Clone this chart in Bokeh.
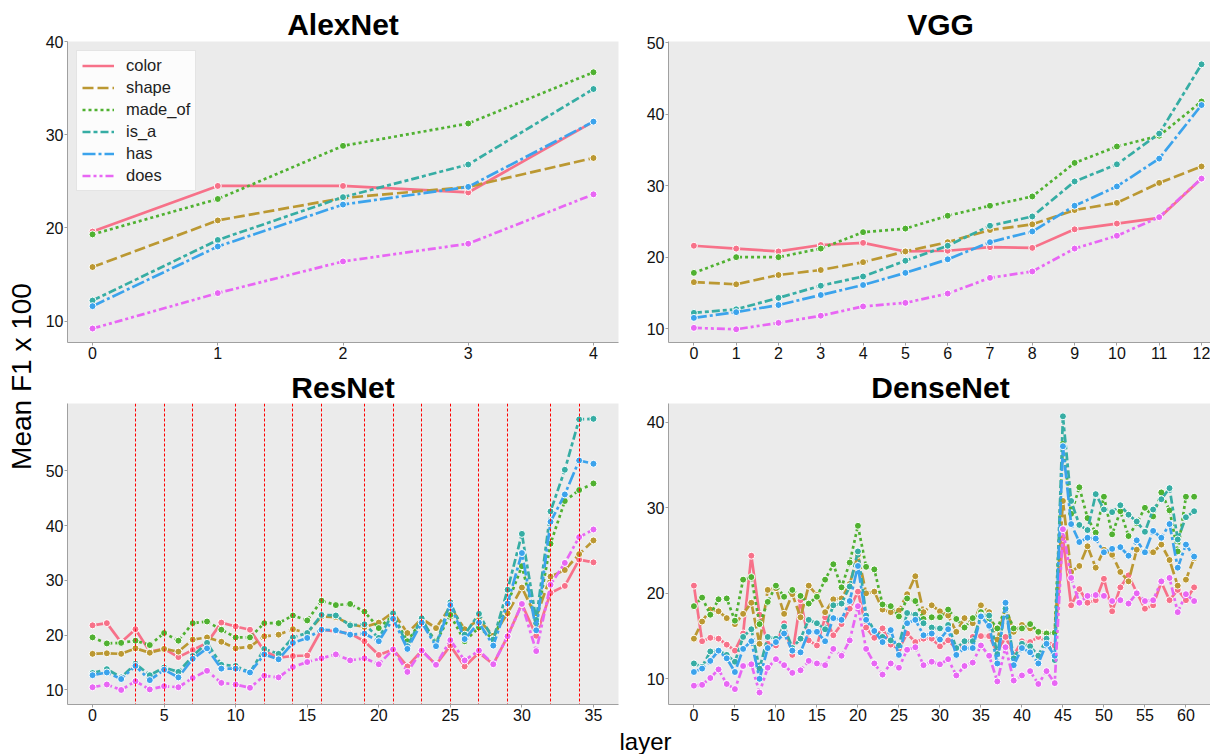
from math import pi
from bokeh.plotting import figure
from bokeh.models import Range1d, FixedTicker, Legend, LegendItem, ColumnDataSource
from bokeh.layouts import row, column
from bokeh.core.properties import value
from bokeh.embed import file_html
from bokeh.resources import INLINE

relations = ["color", "shape", "made_of", "is_a", "has", "does"]
palette = ["#f77189", "#bb9832", "#50b131", "#36ada4", "#3ba3ec", "#e866f4"]
dashes = ["solid", "11 4", "3 3", "8 3 4 3", "13 3 3 3", "8 3 3 3 3 3"]

# ---------------- AlexNet ----------------
alex_layers = [0, 1, 2, 3, 4]
alex_color = [19.6, 24.5, 24.5, 23.8, 31.4]
alex_shape = [15.8, 20.8, 23.2, 24.4, 27.5]
alex_made_of = [19.3, 23.1, 28.8, 31.2, 36.7]
alex_is_a = [12.2, 18.7, 23.3, 26.8, 34.9]
alex_has = [11.6, 18.0, 22.5, 24.4, 31.4]
alex_does = [9.2, 13.0, 16.4, 18.3, 23.6]

# ---------------- VGG ----------------
vgg_layers = list(range(13))
vgg_color = [21.6, 21.2, 20.8, 21.7, 22.0, 20.8, 20.9, 21.4, 21.3, 23.9, 24.7, 25.5, 31.0]
vgg_shape = [16.5, 16.2, 17.5, 18.2, 19.3, 20.8, 22.1, 23.8, 24.6, 26.6, 27.6, 30.4, 32.7]
vgg_made_of = [17.8, 20.0, 20.0, 21.2, 23.5, 24.0, 25.8, 27.2, 28.5, 33.2, 35.5, 37.0, 41.8]
vgg_is_a = [12.2, 12.7, 14.3, 16.0, 17.3, 19.5, 21.6, 24.4, 25.7, 30.6, 33.0, 37.3, 47.0]
vgg_has = [11.5, 12.3, 13.3, 14.7, 16.1, 17.8, 19.7, 22.1, 23.6, 27.2, 29.9, 33.8, 41.3]
vgg_does = [10.1, 9.9, 10.8, 11.8, 13.1, 13.6, 14.9, 17.1, 18.0, 21.2, 23.0, 25.6, 31.0]

# ---------------- ResNet ----------------
resnet_layers = list(range(36))
resnet_color = [21.8, 22.2, 18.7, 21.1, 17.0, 17.5, 16.0, 17.3, 18.6, 22.3, 21.6, 21.0,
                17.1, 15.9, 16.2, 16.3, 21.0, 20.7, 20.3, 18.9, 16.4, 17.4, 14.3, 17.2,
                14.6, 18.1, 14.3, 16.8, 14.7, 19.8, 25.7, 19.9, 27.7, 29.0, 33.8, 33.3]
resnet_shape = [16.6, 16.7, 16.6, 17.6, 16.8, 17.5, 17.0, 19.2, 19.6, 18.8, 17.6, 17.9,
                19.8, 20.1, 21.1, 20.4, 23.4, 23.3, 22.0, 21.5, 22.3, 24.2, 20.4, 23.0,
                21.3, 25.2, 21.1, 22.8, 19.9, 24.0, 28.7, 23.3, 30.7, 31.9, 34.8, 37.3]
resnet_made_of = [19.6, 18.5, 18.6, 19.0, 18.2, 20.4, 19.0, 22.2, 22.5, 21.0, 19.6, 19.6,
                  22.2, 22.2, 23.6, 22.7, 26.3, 25.5, 25.7, 24.3, 21.3, 23.6, 18.9, 22.7,
                  18.7, 23.7, 18.9, 21.4, 19.3, 25.8, 32.6, 22.2, 36.7, 44.5, 46.5, 47.7]
resnet_is_a = [13.1, 13.8, 12.3, 14.8, 12.7, 14.1, 13.3, 16.2, 18.6, 14.6, 14.4, 13.2,
               17.5, 16.6, 19.6, 20.4, 23.7, 23.6, 21.8, 22.0, 19.5, 24.0, 18.0, 23.1,
               18.3, 26.0, 20.1, 23.9, 19.2, 28.3, 38.5, 22.8, 42.6, 50.2, 59.4, 59.5]
resnet_has = [12.7, 13.2, 12.0, 14.4, 11.8, 13.7, 12.3, 15.7, 17.6, 13.9, 13.9, 13.2,
              16.5, 15.6, 18.6, 19.5, 21.0, 20.9, 20.1, 20.3, 18.9, 23.0, 17.5, 22.3,
              18.0, 25.5, 19.3, 22.3, 18.1, 25.8, 35.0, 20.9, 40.7, 45.7, 51.9, 51.3]
resnet_does = [10.5, 11.0, 10.0, 11.6, 10.1, 10.7, 10.5, 12.2, 13.5, 11.3, 11.0, 10.4,
               12.6, 12.3, 14.2, 15.1, 15.8, 16.5, 15.4, 15.8, 14.7, 17.4, 13.3, 17.2,
               14.6, 19.1, 15.4, 17.2, 14.7, 19.8, 25.7, 17.1, 29.2, 33.2, 37.9, 39.3]
resnet_block_ends = [3, 5, 7, 10, 12, 14, 16, 19, 21, 23, 25, 27, 29, 32, 34]

# ---------------- DenseNet ----------------
densenet_layers = list(range(62))
densenet_color = [20.9, 14.4, 14.8, 14.7, 14.0, 13.3, 15.3, 24.4, 17.5, 14.1, 13.9, 16.5,
                  12.8, 19.2, 14.5, 13.9, 17.2, 15.1, 16.4, 18.2, 20.2, 16.0, 14.8, 15.9,
                  14.0, 13.5, 15.3, 14.3, 14.7, 14.7, 13.8, 14.5, 13.5, 13.9, 14.9, 15.0,
                  15.0, 13.1, 14.9, 12.8, 14.4, 14.3, 14.9, 14.4, 13.9, 26.5, 18.6, 20.5,
                  18.9, 19.2, 21.7, 17.9, 20.7, 22.1, 20.1, 18.2, 18.6, 21.3, 19.2, 20.4,
                  19.2, 20.7]
densenet_shape = [14.7, 16.7, 18.1, 17.9, 17.1, 16.4, 17.6, 18.9, 14.1, 20.4, 20.6, 17.6,
                  19.9, 17.2, 20.9, 19.8, 17.8, 19.3, 19.4, 21.1, 24.5, 20.0, 20.2, 18.1,
                  17.8, 18.0, 19.9, 22.0, 17.8, 18.6, 17.9, 17.4, 15.5, 17.1, 16.5, 18.6,
                  17.8, 14.6, 18.4, 15.5, 16.3, 15.9, 15.4, 15.4, 15.3, 30.8, 22.5, 23.2,
                  25.5, 23.0, 25.1, 24.5, 22.5, 21.4, 25.1, 24.9, 24.8, 25.7, 23.9, 20.9,
                  21.6, 24.1]
densenet_made_of = [18.5, 19.5, 17.5, 19.3, 19.4, 16.8, 21.6, 21.9, 16.4, 19.0, 20.9, 19.6,
                    20.4, 19.7, 18.8, 19.6, 21.6, 23.4, 20.7, 23.6, 27.9, 23.1, 22.8, 18.7,
                    18.5, 17.3, 19.4, 19.1, 17.0, 17.2, 17.2, 18.1, 17.0, 16.0, 17.1, 17.8,
                    17.1, 15.9, 18.2, 15.9, 15.9, 16.4, 15.5, 15.3, 15.4, 37.5, 29.3, 32.4,
                    28.8, 27.1, 31.3, 26.9, 29.6, 26.7, 28.2, 30.0, 29.0, 31.8, 29.7, 24.9,
                    31.3, 31.3]
densenet_is_a = [11.8, 11.4, 13.2, 13.3, 12.8, 12.0, 14.9, 15.8, 11.2, 14.9, 14.7, 16.1,
                 13.6, 14.7, 16.9, 16.5, 15.8, 18.6, 18.8, 20.8, 24.9, 17.4, 15.6, 14.9,
                 14.5, 13.9, 17.7, 17.5, 16.5, 16.0, 15.9, 16.3, 13.6, 14.4, 14.4, 17.4,
                 17.4, 12.9, 18.2, 12.4, 14.1, 13.8, 12.7, 14.7, 12.2, 40.7, 30.8, 28.0,
                 27.4, 31.6, 29.8, 29.5, 30.3, 29.2, 28.4, 27.2, 29.8, 31.0, 32.3, 26.3,
                 28.9, 29.6]
densenet_has = [10.8, 11.2, 12.1, 13.3, 12.4, 10.8, 13.5, 14.4, 10.0, 13.6, 14.3, 15.3,
                13.3, 13.1, 15.5, 15.5, 14.4, 17.1, 16.9, 19.1, 23.2, 16.9, 15.6, 14.3,
                15.7, 12.8, 16.5, 16.9, 15.1, 15.3, 14.6, 15.8, 12.8, 13.6, 13.6, 17.3,
                16.2, 11.8, 18.9, 11.6, 13.6, 13.1, 11.8, 14.1, 12.7, 37.2, 28.1, 26.0,
                26.5, 26.4, 24.8, 25.2, 25.4, 24.4, 26.2, 24.8, 27.3, 26.5, 28.1, 23.0,
                25.7, 24.3]
densenet_does = [9.2, 9.3, 10.1, 11.1, 9.4, 8.8, 11.5, 11.7, 8.4, 11.3, 12.3, 11.6,
                 10.7, 11.0, 12.1, 11.8, 11.6, 13.5, 12.7, 14.5, 18.5, 13.5, 11.8, 10.5,
                 11.8, 11.3, 13.4, 13.7, 11.6, 12.0, 11.7, 12.3, 10.4, 11.5, 11.9, 13.9,
                 12.7, 9.7, 13.7, 9.8, 10.4, 10.9, 9.4, 10.9, 9.5, 27.5, 21.8, 18.9,
                 19.7, 19.8, 19.7, 19.1, 19.2, 18.8, 20.0, 19.1, 19.2, 21.4, 21.8, 17.8,
                 19.9, 19.1]

alex_xticks = [0, 1, 2, 3, 4]
alex_yticks = [10, 20, 30, 40]
vgg_xticks = list(range(13))
vgg_yticks = [10, 20, 30, 40, 50]
resnet_xticks = [0, 5, 10, 15, 20, 25, 30, 35]
resnet_yticks = [10, 20, 30, 40, 50]
densenet_xticks = [0, 5, 10, 15, 20, 25, 30, 35, 40, 45, 50, 55, 60]
densenet_yticks = [10, 20, 30, 40]

FONT = "Liberation Sans"
AXIS_GRAY = "#a0a0a0"


def panel(title, layers, series, xr, yr, xticks, yticks, frame_w, frame_h,
          bl, br, bt, bb, title_standoff, legend=False, vlines=None):
    p = figure(frame_width=frame_w, frame_height=frame_h,
               x_range=Range1d(*xr), y_range=Range1d(*yr),
               toolbar_location=None, output_backend="svg", title=title,
               min_border_left=bl, min_border_right=br,
               min_border_top=bt, min_border_bottom=bb)
    p.title.text_font = FONT
    p.title.text_font_style = "bold"
    p.title.text_font_size = "30px"
    p.title.text_color = "black"
    p.title.align = "center"
    p.title.standoff = title_standoff
    p.background_fill_color = "#ebebeb"
    p.border_fill_color = "white"
    p.outline_line_color = None
    p.grid.visible = False
    p.xaxis.ticker = FixedTicker(ticks=xticks)
    p.yaxis.ticker = FixedTicker(ticks=yticks)
    for ax in p.axis:
        ax.axis_line_color = AXIS_GRAY
        ax.major_tick_line_color = AXIS_GRAY
        ax.major_tick_in = 0
        ax.major_tick_out = 3
        ax.minor_tick_line_color = None
        ax.major_label_text_font = FONT
        ax.major_label_text_font_size = "16px"
        ax.major_label_text_color = "#111111"
    p.xaxis.major_label_standoff = 1
    p.yaxis.major_label_standoff = 1

    items = []
    for name, col, dash, ys in zip(relations, palette, dashes, series):
        src = ColumnDataSource(dict(x=layers, y=ys))
        r = p.line("x", "y", source=src, line_color=col, line_width=2.7,
                   line_dash=dash, line_join="round")
        p.scatter("x", "y", source=src, size=7, fill_color=col,
                  line_color="white", line_width=1)
        items.append(LegendItem(label=name, renderers=[r]))

    if vlines is not None:
        # block boundaries drawn on top of the curves, as in the original
        p.vspan(x=vlines, line_color="#ff0000", line_width=1, line_dash="3 2")

    if legend:
        lg = Legend(items=items, location="top_left")
        lg.label_text_font = FONT
        lg.label_text_font_size = "16.5px"
        lg.label_text_color = "#222222"
        lg.glyph_width = 32
        lg.glyph_height = 19
        lg.label_height = 19
        lg.label_standoff = 12
        lg.spacing = 3
        lg.padding = 5
        lg.margin = 9
        lg.background_fill_color = "white"
        lg.background_fill_alpha = 0.85
        lg.border_line_color = "#cccccc"
        lg.border_line_width = 1
        p.add_layout(lg)
    return p


FH = 301
p1 = panel("AlexNet", alex_layers,
           [alex_color, alex_shape, alex_made_of, alex_is_a, alex_has, alex_does],
           (-0.2, 4.2), (7.7, 40.0), alex_xticks, alex_yticks,
           551, FH, 24, 25, 41, 25, 2, legend=True)
p2 = panel("VGG", vgg_layers,
           [vgg_color, vgg_shape, vgg_made_of, vgg_is_a, vgg_has, vgg_does],
           (-0.6, 12.26), (8.05, 50.2), vgg_xticks, vgg_yticks,
           544, FH, 24, 0, 41, 25, 2)
p3 = panel("ResNet", resnet_layers,
           [resnet_color, resnet_shape, resnet_made_of, resnet_is_a, resnet_has, resnet_does],
           (-1.75, 36.75), (7.35, 62.3), resnet_xticks, resnet_yticks,
           551, FH, 24, 25, 36, 23, 0, vlines=resnet_block_ends)
p4 = panel("DenseNet", densenet_layers,
           [densenet_color, densenet_shape, densenet_made_of, densenet_is_a, densenet_has, densenet_does],
           (-3.1, 63.24), (7.0, 42.2), densenet_xticks, densenet_yticks,
           544, FH, 24, 0, 36, 23, 0)


def text_strip(w, h):
    f = figure(width=w, height=h, x_range=Range1d(0, w), y_range=Range1d(0, h),
               toolbar_location=None, output_backend="svg", title=None,
               min_border=0, min_border_left=0, min_border_right=0,
               min_border_top=0, min_border_bottom=0,
               x_axis_location=None, y_axis_location=None)
    f.outline_line_color = None
    f.grid.visible = False
    f.background_fill_color = "white"
    f.border_fill_color = "white"
    return f


TOTAL_H = 755
YLAB_W = 42
ylab = text_strip(YLAB_W, TOTAL_H)
ylab.text(x=[21], y=[TOTAL_H - 376], text=["Mean F1 x 100"], angle=pi / 2,
          text_align="center", text_baseline="middle",
          text_font=value(FONT), text_font_size="28px", text_color="black")

XW = 24 + 551 + 25 + 24 + 544
XH = 27
xlab = text_strip(XW, XH)
xlab.text(x=[603], y=[XH / 2], text=["layer"], text_align="center", text_baseline="middle",
          text_font=value(FONT), text_font_size="24px", text_color="black")

layout = row(ylab, column(row(p1, p2), row(p3, p4), xlab))

open("out.html", "w").write(file_html(layout, INLINE))
